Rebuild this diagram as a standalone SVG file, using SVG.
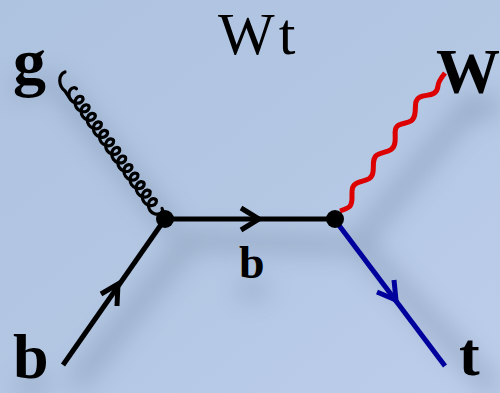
<svg xmlns="http://www.w3.org/2000/svg" width="500" height="393" viewBox="0 0 500 393">
<style>
text{font-family:"Liberation Serif","Times New Roman",serif;fill:#000}
.lb{font-weight:bold}
.ln{fill:none;stroke-linecap:butt;stroke-linejoin:miter}
.k{stroke:#000;stroke-width:5}
.bl{stroke:#00009c;stroke-width:5}
.sh{fill:none;stroke:#5d6f8c;stroke-width:10}
.coil{fill:none;stroke:#000;stroke-width:3.2;stroke-linecap:round}
</style>
<defs>
<linearGradient id="bg" x1="0" y1="0" x2="1" y2="1">
<stop offset="0" stop-color="#aec3e0"/>
<stop offset="0.5" stop-color="#b3c7e3"/>
<stop offset="1" stop-color="#bccdea"/>
</linearGradient>
<filter id="blur" x="-30%" y="-30%" width="160%" height="160%"><feGaussianBlur stdDeviation="13"/></filter>
<path id="loop" d="M0,-5.500c-2,0 -3.750,2.620 -2.880,5.500c.87,2.880 4.380,5.500 8.130,5.500c3.750,0 7.250,-2.620 8.120,-5.500c.87,-2.880 -.87,-5.500 -2.870,-5.500"/>
</defs>
<rect width="500" height="393" fill="url(#bg)"/>
<g id="shadows" filter="url(#blur)" opacity="0.6">
<path class="sh" d="M55,80L175,232"/>
<path class="sh" d="M75,385L190,240L350,245"/>
<path class="sh" d="M360,240L475,100"/>
<path class="sh" d="M355,240L495,390"/>
<path class="sh" d="M15,90L45,80M20,390L45,380M470,110L500,105M240,290L265,290"/>
</g>
<g id="connectors">
<g id="gluon">
<path class="coil" d="M65,72C58,75 58,85 65,91C67,94 69,97 70.600,99.500"/>
<g class="coil" transform="translate(72,92) rotate(54.4)">
<use href="#loop" x="0"/><use href="#loop" x="10.500"/><use href="#loop" x="21"/><use href="#loop" x="31.500"/><use href="#loop" x="42"/><use href="#loop" x="52.500"/><use href="#loop" x="63"/><use href="#loop" x="73.500"/><use href="#loop" x="84"/><use href="#loop" x="94.500"/><use href="#loop" x="105"/><use href="#loop" x="115.500"/><use href="#loop" x="126"/><use href="#loop" x="136.500"/>
</g>
</g>
<path id="w" class="ln" stroke="#dc0000" stroke-width="5" d="M340,211C349,208 352,207 352,198C352,191 351,186 357,183C363,180 372,181 373,172C374,165 372,158 377,155C383,151 394,153 395,142C396,135 393,128 399,125C405,122 414,124 415,113C416,106 414,100 420,97C426,94 437,97 438,86C438,82 441,78 445,73"/>
<path id="b-in" class="ln k" d="M63,365L165,219"/>
<path class="ln k" d="M101,294L118,284L117,306"/>
<path id="b-mid" class="ln k" d="M165,219L335,219"/>
<path class="ln k" d="M241,208L259,219L241,230"/>
<path id="t-line" class="ln bl" d="M338,224L445,366"/>
<path class="ln bl" d="M377,292L396,300L394,280"/>
</g>
<g id="v1"><circle cx="165" cy="219" r="9" fill="#000"/></g>
<g id="v2"><circle cx="335" cy="219" r="9" fill="#000"/></g>
<g id="title"><text x="218" y="54" font-size="60" letter-spacing="4">Wt</text></g>
<g id="label-g"><text class="lb" x="13" y="84" font-size="66">g</text></g>
<g id="label-W"><text class="lb" x="436" y="93" font-size="64">W</text></g>
<g id="label-b-in"><text class="lb" x="13" y="378" font-size="64">b</text></g>
<g id="label-b-mid"><text class="lb" x="239" y="278" font-size="46">b</text></g>
<g id="label-t"><text class="lb" x="459" y="375" font-size="62">t</text></g>
</svg>
